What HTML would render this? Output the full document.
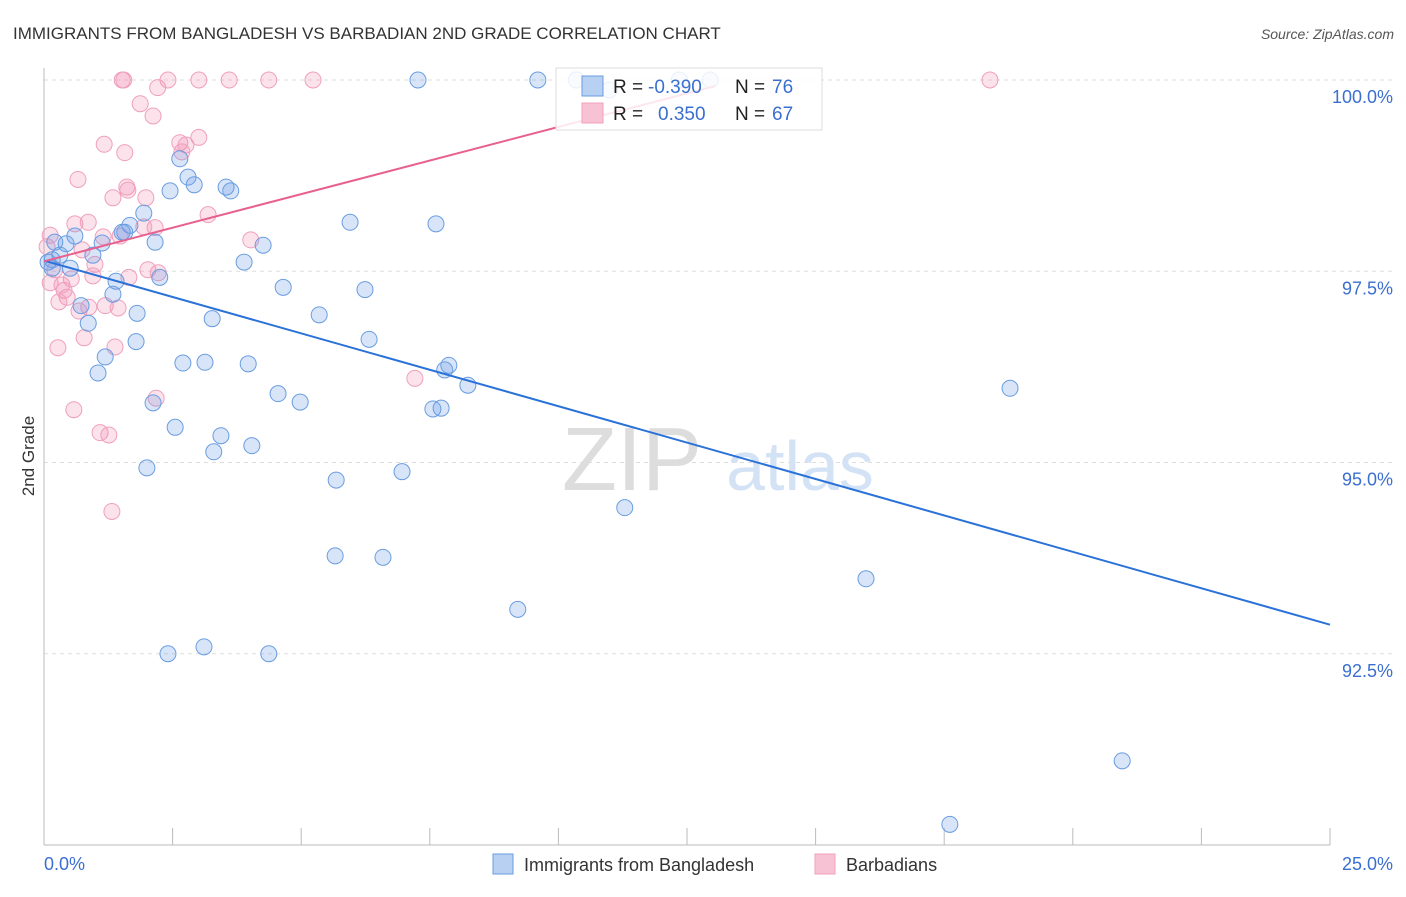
<!DOCTYPE html>
<html><head><meta charset="utf-8"><style>
body{margin:0;background:#fff;font-family:"Liberation Sans",sans-serif;}
svg text{font-family:"Liberation Sans",sans-serif;}
</style></head><body>
<svg id="chart" width="1406" height="892" xmlns="http://www.w3.org/2000/svg">
<text x="13" y="39" font-size="17" fill="#333">IMMIGRANTS FROM BANGLADESH VS BARBADIAN 2ND GRADE CORRELATION CHART</text>
<text x="1394" y="39" font-size="14" fill="#555" font-style="italic" text-anchor="end">Source: ZipAtlas.com</text>
<text x="34" y="456" font-size="17" fill="#333" text-anchor="middle" transform="rotate(-90 34 456)">2nd Grade</text>
<g id="grid"></g>
<g><text x="632" y="490" font-size="90" fill="#ddd" font-family="Liberation Serif" text-anchor="middle">ZIP</text><text x="800" y="490" font-size="70" fill="#d4e2f5" text-anchor="middle">atlas</text></g>
<g id="points"></g>
<g id="trends"></g>
<g>
<rect x="556" y="68" width="266" height="62" fill="#fff" fill-opacity="0.85" stroke="#ddd"/>
<rect x="582" y="76" width="21" height="20" fill="#b8d1f3" stroke="#6a9de0"/>
<rect x="582" y="103" width="21" height="20" fill="#f7c2d3" stroke="#f0a0bc"/>
<text x="613" y="93" font-size="19" fill="#222">R = </text><text x="648" y="93" font-size="19" fill="#3a6fd0">-0.390</text>
<text x="735" y="93" font-size="19" fill="#222">N = </text><text x="772" y="93" font-size="19" fill="#3a6fd0">76</text>
<text x="613" y="120" font-size="19" fill="#222">R = </text><text x="658" y="120" font-size="19" fill="#3a6fd0">0.350</text>
<text x="735" y="120" font-size="19" fill="#222">N = </text><text x="772" y="120" font-size="19" fill="#3a6fd0">67</text>
</g>
<g>
<rect x="493" y="854" width="20" height="20" fill="#b8d1f3" stroke="#6a9de0"/>
<text x="524" y="871" font-size="18" fill="#333">Immigrants from Bangladesh</text>
<rect x="815" y="854" width="20" height="20" fill="#f7c2d3" stroke="#f0a0bc"/>
<text x="846" y="871" font-size="18" fill="#333">Barbadians</text>
</g>
</svg>
<script>
const xTicks=[0,2.5,5,7.5,10,12.5,15,17.5,20,22.5,25];
const yTicks=[100,97.5,95,92.5];
const yTickLabels=["100.0%","97.5%","95.0%","92.5%"];
const xTickLabels=["0.0%","25.0%"];
const blueX=[7.27,9.6,10.35,10.99,12.35,12.95,2.64,2.8,2.92,2.45,3.54,3.63,1.94,1.67,1.52,1.57,2.16,1.13,0.6,0.43,0.21,4.26,5.95,7.62,3.89,0.51,0.16,0.95,0.31,2.25,1.4,4.65,6.24,1.34,0.72,1.81,0.86,3.27,5.35,6.32,1.79,1.19,1.05,2.7,3.13,3.97,7.87,7.79,8.24,4.55,4.98,2.12,7.56,7.72,18.78,2.55,3.44,3.3,4.04,2.0,6.96,5.68,11.29,5.66,6.59,9.21,15.98,2.41,3.11,4.37,20.96,17.61,0.08,0.16];
const blueY=[100,100,100,99.87,100,100,98.97,98.73,98.63,98.55,98.6,98.55,98.26,98.1,98.01,98.01,97.88,97.87,97.96,97.86,97.88,97.84,98.14,98.12,97.62,97.54,97.65,97.71,97.71,97.42,97.37,97.29,97.26,97.2,97.05,96.95,96.82,96.88,96.93,96.61,96.58,96.38,96.17,96.3,96.31,96.29,96.27,96.21,96.01,95.9,95.79,95.78,95.7,95.71,95.97,95.46,95.35,95.14,95.22,94.93,94.88,94.77,94.41,93.78,93.76,93.08,93.48,92.5,92.59,92.5,91.1,90.27,97.62,97.54];
const pinkX=[1.52,1.55,2.41,3.01,3.6,4.37,5.23,18.39,2.21,1.87,2.12,2.64,3.01,2.76,1.17,1.57,2.68,0.66,1.61,1.63,1.34,1.98,3.19,0.6,0.86,4.02,2.16,1.94,1.48,1.15,0.12,0.74,0.06,0.99,2.02,2.22,1.65,0.95,0.53,0.12,0.39,0.45,0.29,0.87,1.19,1.44,0.68,0.78,0.27,1.38,7.21,2.18,0.58,1.09,1.26,1.32,0.21,0.35];
const pinkY=[100,100,100,100,100,100,100,100,99.9,99.69,99.53,99.18,99.25,99.15,99.16,99.05,99.06,98.7,98.6,98.56,98.46,98.46,98.24,98.12,98.14,97.91,98.07,98.08,97.96,97.95,97.97,97.78,97.82,97.59,97.52,97.48,97.42,97.44,97.4,97.35,97.25,97.16,97.1,97.03,97.05,97.02,96.98,96.63,96.5,96.51,96.1,95.84,95.69,95.39,95.36,94.36,97.52,97.32];
const blueTrend=[0,97.64,25,92.88];
const pinkTrend=[0,97.63,13.04,99.92];
const X0=44,X1=1330,Y100=80,PXPER=76.5;
const sx=v=>X0+(v/25)*(X1-X0);
const sy=v=>Y100+(100-v)*PXPER;
const NS="http://www.w3.org/2000/svg";
const grid=document.getElementById('grid');
function mk(tag,attrs,parent){const e=document.createElementNS(NS,tag);for(const k in attrs)e.setAttribute(k,attrs[k]);parent.appendChild(e);return e;}
yTicks.forEach((t,i)=>{
 const l=mk('line',{x1:X0,x2:1394,y1:sy(t),y2:sy(t),stroke:'#ddd','stroke-dasharray':'4,4'},grid);
 
 
 const tx=mk('text',{x:1393,y:sy(t)+23,'font-size':18,fill:'#3a6fd0','text-anchor':'end'},grid);tx.textContent=yTickLabels[i];
 
 
});
const ax=mk('line',{x1:X0,x2:X1,y1:845,y2:845,stroke:'#bbb'},grid);


const ay=mk('line',{x1:X0,x2:X0,y1:68,y2:845,stroke:'#bbb'},grid);


xTicks.forEach(t=>{const l=mk('line',{x1:sx(t),x2:sx(t),y1:828,y2:845,stroke:'#bbb'},grid);
 
 });
const xl0=mk('text',{x:44,y:870,'font-size':18,fill:'#3a6fd0'},grid);xl0.textContent=xTickLabels[0];


const xl1=mk('text',{x:1393,y:870,'font-size':18,fill:'#3a6fd0','text-anchor':'end'},grid);xl1.textContent=xTickLabels[1];


const pts=document.getElementById('points');
pinkX.forEach((x,i)=>{const c=mk('circle',{cx:sx(x),cy:sy(pinkY[i]),r:8,fill:'rgba(240,140,175,0.25)',stroke:'#f0a0bc','stroke-width':1},pts);
 
 });
blueX.forEach((x,i)=>{const c=mk('circle',{cx:sx(x),cy:sy(blueY[i]),r:8,fill:'rgba(100,150,230,0.25)',stroke:'#6a9de0','stroke-width':1},pts);
 
 });
const tr=document.getElementById('trends');
const bl=mk('line',{x1:sx(blueTrend[0]),y1:sy(blueTrend[1]),x2:sx(blueTrend[2]),y2:sy(blueTrend[3]),stroke:'#2a72d8','stroke-width':2},tr);


const pl=mk('line',{x1:sx(pinkTrend[0]),y1:sy(pinkTrend[1]),x2:sx(pinkTrend[2]),y2:sy(pinkTrend[3]),stroke:'#e8608e','stroke-width':2},tr);


</script>
</body></html>
